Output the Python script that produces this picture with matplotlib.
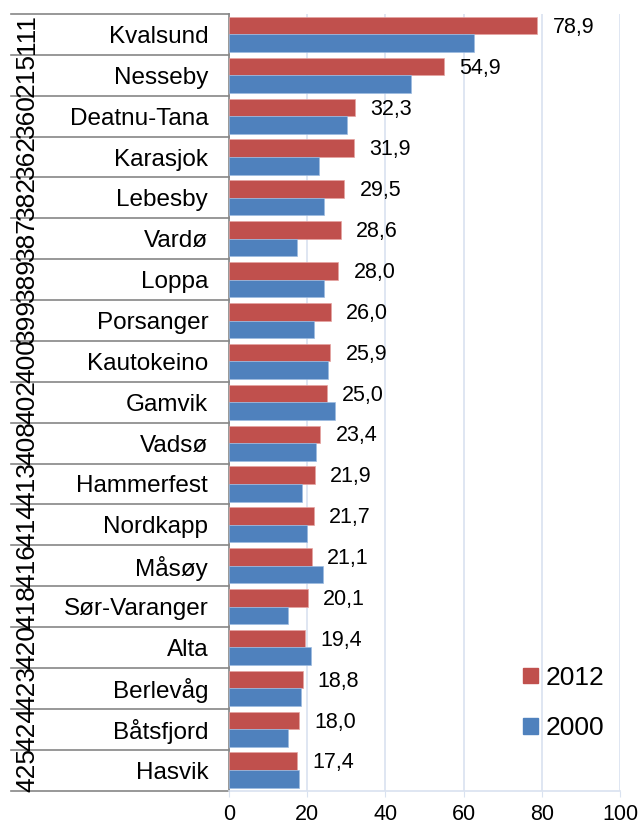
import numpy as np
import matplotlib.pyplot as plt
from matplotlib.patches import Rectangle

plt.rcParams['font.family'] = ['Liberation Sans', 'DejaVu Sans']

# Data
ranks = ['111', '215', '360', '362', '382', '387', '389', '399', '400', '402',
         '408', '413', '414', '416', '418', '420', '423', '424', '425']
names = ['Kvalsund', 'Nesseby', 'Deatnu-Tana', 'Karasjok', 'Lebesby', 'Vardø',
         'Loppa', 'Porsanger', 'Kautokeino', 'Gamvik', 'Vadsø', 'Hammerfest',
         'Nordkapp', 'Måsøy', 'Sør-Varanger', 'Alta', 'Berlevåg', 'Båtsfjord',
         'Hasvik']
v2012 = [78.9, 54.9, 32.3, 31.9, 29.5, 28.6, 28.0, 26.0, 25.9, 25.0,
         23.4, 21.9, 21.7, 21.1, 20.1, 19.4, 18.8, 18.0, 17.4]
v2000 = [62.6, 46.6, 30.1, 23.1, 24.2, 17.5, 24.2, 21.7, 25.4, 27.1,
         22.2, 18.6, 19.9, 24.1, 15.2, 21.0, 18.4, 15.1, 18.0]

red = '#c0504d'
blue = '#4f81bd'
grid_c = '#d9e2f0'
line_c = '#868686'

fig = plt.figure(figsize=(6.38, 8.25), dpi=100)
ax = fig.add_axes([229 / 638, 1 - 790.5 / 825, 391 / 638, 776.5 / 825])

n = len(names)
y = np.arange(n)
h = 0.43
ax.barh(y - h / 2, v2012, height=h, color=red, edgecolor='#e6a3a1', linewidth=0.5, zorder=3)
ax.barh(y + h / 2, v2000, height=h, color=blue, edgecolor='#9dbbe0', linewidth=0.5, zorder=3)

for yi, v in zip(y, v2012):
    ax.text(v + 3.9, yi - h / 2 + 0.04, f'{v:.1f}'.replace('.', ','), va='center', ha='left',
            fontsize=15.5, color='black')

ax.set_xlim(0, 100)
ax.set_ylim(n - 0.5, -0.5)
ax.set_xticks(np.arange(0, 101, 20))
ax.tick_params(axis='x', labelsize=15.5, length=4, color=grid_c, pad=6)
ax.xaxis.grid(True, color=grid_c, linewidth=1.2, zorder=0)
ax.set_axisbelow(True)

ax.set_yticks(y, names)
ax.tick_params(axis='y', length=0, labelsize=17.5, pad=15)

for s in ['top', 'right']:
    ax.spines[s].set_visible(False)
ax.spines['bottom'].set_color(grid_c)
ax.spines['bottom'].set_linewidth(1.2)
ax.spines['left'].set_color(line_c)
ax.spines['left'].set_linewidth(1.2)

# category table lines and rank labels
tr = ax.get_yaxis_transform()
x_left = (11 - 229) / 391
for b in np.arange(n + 1) - 0.5:
    ax.plot([x_left, 0], [b, b], transform=tr, color=line_c, linewidth=1.2, clip_on=False)
for yi, r in zip(y, ranks):
    ax.text((27 - 229) / 391, yi, r, transform=tr, rotation=90, ha='center', va='center',
            fontsize=19, color='black')

handles = [Rectangle((0, 0), 1, 1, color=red), Rectangle((0, 0), 1, 1, color=blue)]
fig.legend(handles, ['2012', '2000'], loc='center left', bbox_to_anchor=(523 / 638, 1 - 703 / 825),
           frameon=False, fontsize=19, handlelength=0.55, handleheight=0.55,
           handletextpad=0.3, labelspacing=1.0, borderpad=0, borderaxespad=0)

fig.savefig('out.png', dpi=100)
